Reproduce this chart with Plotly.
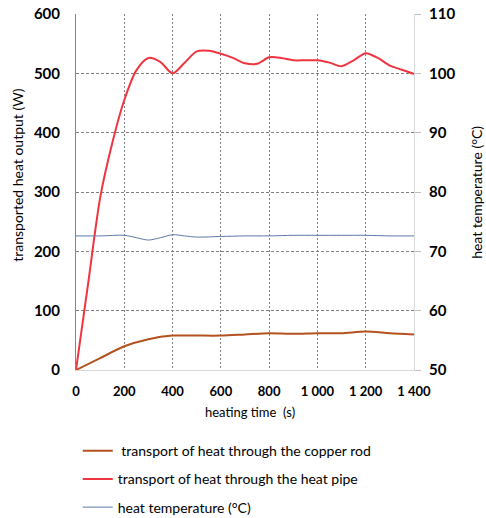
import plotly.graph_objects as go

# heating time (s)
t_pipe = [0, 50, 100, 150, 200, 250, 300, 350, 400, 450, 500, 550, 600, 650, 700, 750,
          800, 850, 900, 950, 1000, 1050, 1100, 1150, 1200, 1250, 1300, 1350, 1400]
heat_pipe_W = [0, 145, 290, 382, 455, 505, 526, 519, 500, 518, 537, 538, 533, 526, 517, 516,
               527, 526, 522, 522, 522, 518, 512, 522, 534, 526, 513, 506, 499]

t_rod = [0, 100, 200, 300, 400, 500, 600, 700, 800, 900, 1000, 1100, 1200, 1300, 1400]
copper_rod_W = [0, 20, 40, 52, 58, 58, 58, 60, 62, 61, 62, 62, 65, 62, 60]

t_temp = [0, 100, 200, 250, 300, 350, 400, 450, 500, 600, 700, 800, 900, 1000, 1100, 1200, 1300, 1400]
heat_temp_C = [72.6, 72.6, 72.7, 72.3, 71.9, 72.3, 72.8, 72.6, 72.4, 72.5, 72.6, 72.6, 72.7,
               72.7, 72.7, 72.7, 72.6, 72.6]

x_ticks = [0, 200, 400, 600, 800, 1000, 1200, 1400]
x_ticktext = ["0", "200", "400", "600", "800", "1 000", "1 200", "1 400"]

names = ["\u00a0transport of heat through the copper rod",
         "transport of heat through the heat pipe",
         "heat temperature (°C)"]

x_title = "heating time  (s)"
y_title = "transported heat output (W)"
y2_title = "heat temperature (°C)"

FONT = "Lato"

fig = go.Figure()
fig.add_trace(go.Scatter(x=t_rod, y=copper_rod_W, mode="lines", name=names[0],
                         line=dict(color="#B4521F", width=2, shape="spline", smoothing=0.8),
                         legendgroup="a"))
fig.add_trace(go.Scatter(x=t_pipe, y=heat_pipe_W, mode="lines", name=names[1],
                         line=dict(color="#EE3540", width=2, shape="spline", smoothing=0.8),
                         legendgroup="b"))
fig.add_trace(go.Scatter(x=t_temp, y=heat_temp_C, mode="lines", name=names[2], yaxis="y2",
                         line=dict(color="#5B78A8", width=1, shape="spline", smoothing=0.8),
                         legendgroup="c"))

fig.update_layout(
    template="none",
    width=486, height=518,
    margin=dict(l=76, r=72, t=14, b=148, autoexpand=False),
    paper_bgcolor="white", plot_bgcolor="white",
    font=dict(family=FONT, color="#000000"),
    showlegend=True,
    legend=dict(xref="container", yref="container", x=0.160, y=0.160,
                xanchor="left", yanchor="top",
                font=dict(family=FONT, size=14, color="#000000"),
                itemwidth=30, tracegroupgap=7, traceorder="grouped",
                bgcolor="rgba(0,0,0,0)", borderwidth=0),
    xaxis=dict(range=[0, 1400], tickvals=x_ticks, ticktext=x_ticktext, automargin=False,
               tickfont=dict(family=FONT, size=13, color="#000000", weight="bold"),
               showgrid=True, gridcolor="#808080", griddash="2px,2px", gridwidth=1,
               showline=True, linecolor="#d9d9d9", linewidth=1,
               zeroline=False, ticks="", ticklabelstandoff=9, ticklabeloverflow="allow"),
    yaxis=dict(range=[0, 600], tickvals=[0, 100, 200, 300, 400, 500, 600], automargin=False,
               tickfont=dict(family=FONT, size=15, color="#000000", weight="bold"),
               showgrid=True, gridcolor="#808080", griddash="3px,2px", gridwidth=1,
               showline=True, linecolor="#868686", linewidth=1,
               zeroline=False, ticks="", ticklabelstandoff=12, ticklabeloverflow="allow"),
    yaxis2=dict(range=[50, 110], tickvals=[50, 60, 70, 80, 90, 100, 110], automargin=False,
                overlaying="y", side="right",
                tickfont=dict(family=FONT, size=15, color="#000000", weight="bold"),
                showgrid=False, showline=True, linecolor="#d9d9d9", linewidth=1,
                zeroline=False, ticks="outside", ticklen=6, tickcolor="#bfbfbf",
                ticklabelstandoff=5, ticklabeloverflow="allow"),
    annotations=[
        dict(text=x_title, xref="paper", yref="paper", x=0.515, y=-0.118,
             xanchor="center", yanchor="middle",
             showarrow=False, font=dict(family=FONT, size=13, color="#000000")),
        dict(text=y_title, xref="paper", yref="paper", x=-0.172, y=0.548, textangle=-90,
             xanchor="center", yanchor="middle",
             showarrow=False, font=dict(family=FONT, size=14, color="#000000")),
        dict(text=y2_title, xref="paper", yref="paper", x=1.183, y=0.5, textangle=-90,
             xanchor="center", yanchor="middle",
             showarrow=False, font=dict(family=FONT, size=14, color="#000000")),
    ],
)

fig.write_html("out.html", config={"displayModeBar": False},
               post_script="document.body.style.margin='0';document.body.style.overflow='hidden';")
